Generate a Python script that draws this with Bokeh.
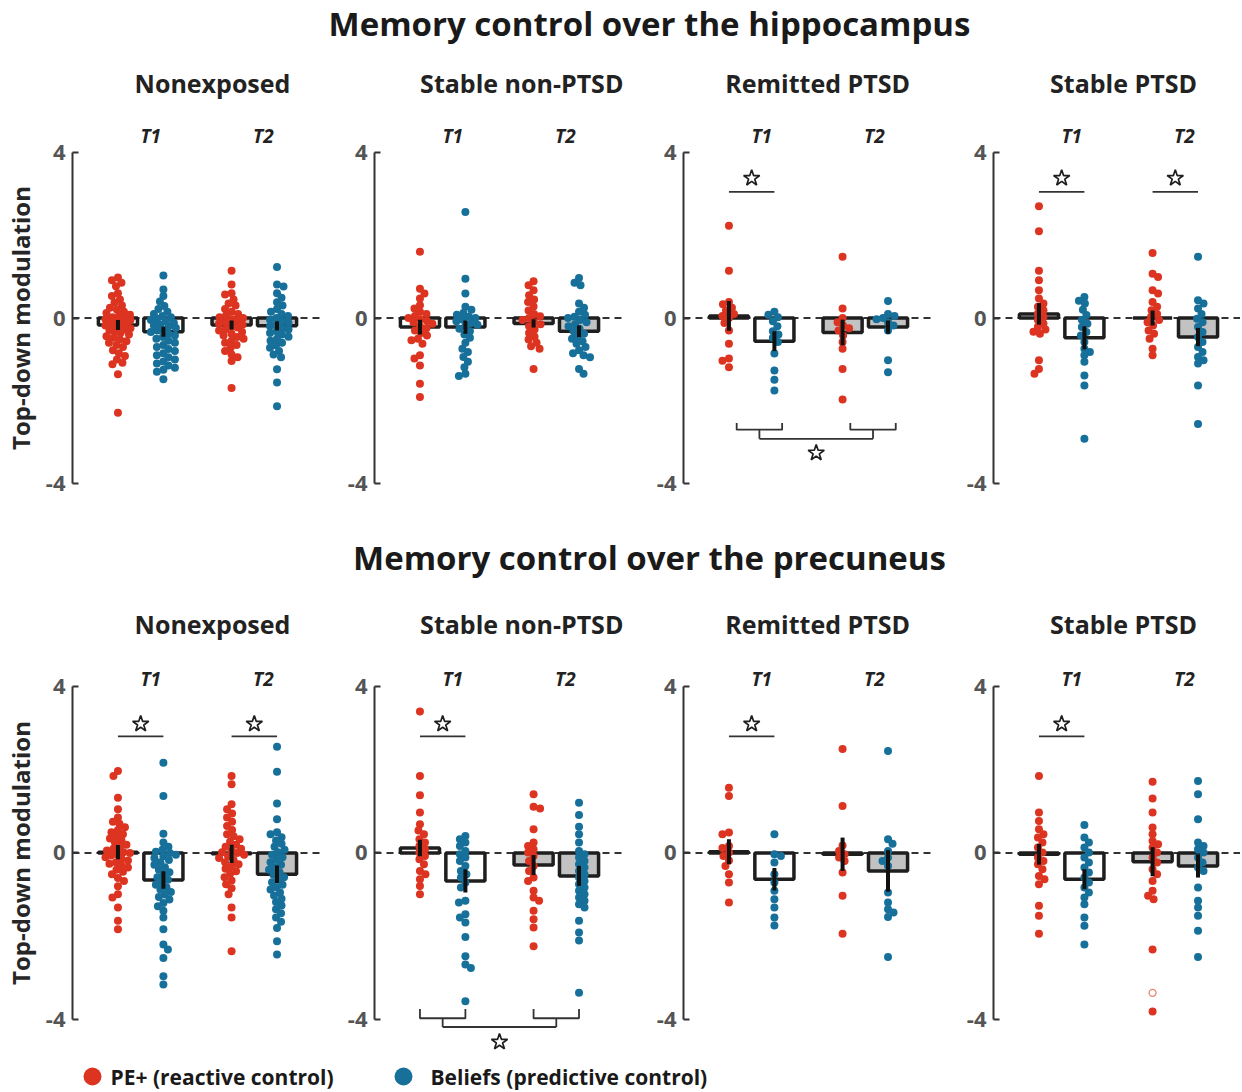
import numpy as np
from bokeh.plotting import figure
from bokeh.layouts import column, row
from bokeh.models import Range1d, FixedTicker, Span
from bokeh.core.properties import value
from bokeh.embed import file_html
from bokeh.resources import INLINE

# ---------------- data ----------------
groups = ["Nonexposed", "Stable non-PTSD", "Remitted PTSD", "Stable PTSD"]
times = ["T1", "T2"]
legend_labels = ["PE+ (reactive control)", "Beliefs (predictive control)"]
row_titles = ["Memory control over the hippocampus", "Memory control over the precuneus"]
y_label = "Top-down modulation"

# hippocampus - Nonexposed
hip_ne_t1_pe = [0.98, 0.91, 0.85, 0.77, 0.60, 0.53, 0.45, 0.37, 0.30, 0.25, 0.20, 0.15, 0.12, 0.08, 0.05, 0.02,
                0.0, -0.03, -0.05, -0.08, -0.1, -0.12, -0.15, -0.18, -0.2, -0.22, -0.25, -0.28, -0.3, -0.33,
                -0.36, -0.4, -0.44, -0.48, -0.52, -0.56, -0.6, -0.65, -0.7, -0.78, -0.85, -0.92, -1.0, -1.08,
                -1.12, -1.36, -2.29]
hip_ne_t1_bel = [1.03, 0.69, 0.53, 0.40, 0.29, 0.22, 0.15, 0.10, 0.05, 0.02, -0.02, -0.05, -0.08, -0.12, -0.15,
                 -0.18, -0.2, -0.24, -0.28, -0.3, -0.34, -0.38, -0.42, -0.46, -0.5, -0.55, -0.6, -0.65, -0.7,
                 -0.75, -0.8, -0.85, -0.9, -0.95, -1.0, -1.05, -1.1, -1.15, -1.2, -1.25, -1.3, -1.48]
hip_ne_t2_pe = [1.14, 0.81, 0.6, 0.57, 0.45, 0.35, 0.3, 0.22, 0.15, 0.1, 0.06, 0.02, 0.0, -0.03, -0.06, -0.1,
                -0.13, -0.16, -0.2, -0.23, -0.27, -0.3, -0.34, -0.38, -0.42, -0.46, -0.5, -0.55, -0.6, -0.65,
                -0.72, -0.8, -0.88, -0.95, -1.04, -1.69]
hip_ne_t2_bel = [1.23, 0.81, 0.76, 0.6, 0.49, 0.38, 0.3, 0.22, 0.15, 0.1, 0.05, 0.0, -0.04, -0.08, -0.12, -0.16,
                 -0.2, -0.24, -0.28, -0.32, -0.36, -0.4, -0.45, -0.5, -0.55, -0.6, -0.66, -0.72, -0.8, -0.88,
                 -0.95, -1.24, -1.56, -2.13]
# hippocampus - Stable non-PTSD
hip_sn_t1_pe = [1.6, 0.71, 0.59, 0.47, 0.31, 0.23, 0.15, 0.1, 0.05, 0.0, -0.03, -0.07, -0.1, -0.14, -0.2, -0.25,
                -0.3, -0.36, -0.42, -0.5, -0.54, -0.62, -0.9, -0.98, -1.15, -1.59, -1.91]
hip_sn_t1_bel = [2.56, 0.95, 0.59, 0.27, 0.2, 0.12, 0.08, 0.03, 0.0, -0.04, -0.08, -0.12, -0.16, -0.2, -0.26,
                 -0.32, -0.4, -0.48, -0.6, -0.74, -0.82, -0.94, -1.06, -1.19, -1.35, -1.4]
hip_sn_t2_pe = [0.89, 0.79, 0.67, 0.55, 0.45, 0.39, 0.28, 0.18, 0.1, 0.04, 0.0, -0.05, -0.1, -0.15, -0.2, -0.28,
                -0.36, -0.45, -0.52, -0.6, -0.68, -0.74, -1.23]
hip_sn_t2_bel = [0.97, 0.85, 0.79, 0.35, 0.25, 0.15, 0.08, 0.03, 0.0, -0.05, -0.1, -0.15, -0.2, -0.26, -0.32,
                 -0.38, -0.44, -0.5, -0.56, -0.62, -0.7, -0.78, -0.85, -0.9, -0.95, -1.23, -1.35]
# hippocampus - Remitted PTSD
hip_rp_t1_pe = [2.23, 1.14, 0.39, 0.33, 0.25, 0.18, 0.1, 0.05, 0.0, -0.12, -0.3, -0.62, -0.98, -1.03, -1.19]
hip_rp_t1_bel = [0.15, 0.08, 0.02, -0.08, -0.2, -0.32, -0.4, -0.48, -0.58, -0.86, -1.27, -1.49, -1.75]
hip_rp_t2_pe = [1.48, 0.23, 0.0, -0.1, -0.18, -0.25, -0.3, -0.42, -0.58, -0.74, -1.23, -1.97]
hip_rp_t2_bel = [0.41, 0.1, 0.05, 0.0, -0.03, -0.1, -0.18, -0.3, -1.02, -1.31]
# hippocampus - Stable PTSD
hip_sp_t1_pe = [2.7, 2.1, 1.14, 0.91, 0.67, 0.47, 0.35, 0.27, 0.19, 0.11, 0.03, -0.05, -0.13, -0.21, -0.28,
                -0.33, -0.38, -1.02, -1.23, -1.35]
hip_sp_t1_bel = [0.51, 0.42, 0.35, 0.2, 0.07, -0.05, -0.14, -0.22, -0.34, -0.42, -0.58, -0.74, -0.82, -0.9,
                 -1.06, -1.39, -1.63, -2.92]
hip_sp_t2_pe = [1.57, 1.07, 0.99, 0.67, 0.59, 0.39, 0.27, 0.19, 0.1, 0.03, -0.05, -0.1, -0.18, -0.3, -0.38,
                -0.5, -0.74, -0.9]
hip_sp_t2_bel = [1.48, 0.43, 0.35, 0.23, 0.1, -0.02, -0.1, -0.22, -0.34, -0.46, -0.58, -0.7, -0.82, -0.94,
                 -1.02, -1.1, -1.63, -2.56]

hip_means = [[-0.17, -0.33, -0.17, -0.19], [-0.22, -0.22, -0.13, -0.32],
             [0.05, -0.56, -0.35, -0.22], [0.10, -0.48, 0.0, -0.46]]
hip_sems = [[0.12, 0.12, 0.11, 0.11], [0.18, 0.16, 0.10, 0.14],
            [0.36, 0.24, 0.31, 0.16], [0.26, 0.28, 0.18, 0.22]]

# precuneus - Nonexposed
pre_ne_t1_pe = [1.97, 1.85, 1.33, 1.05, 0.85, 0.75, 0.7, 0.62, 0.55, 0.5, 0.45, 0.4, 0.35, 0.3, 0.25, 0.2, 0.15,
                0.1, 0.06, 0.02, 0.0, -0.03, -0.06, -0.1, -0.14, -0.18, -0.22, -0.26, -0.3, -0.35, -0.4, -0.45,
                -0.51, -0.6, -0.67, -0.8, -0.99, -1.07, -1.31, -1.63, -1.83]
pre_ne_t1_bel = [2.17, 1.37, 0.46, 0.25, 0.15, 0.08, 0.03, 0.0, -0.04, -0.08, -0.12, -0.17, -0.22, -0.28, -0.34,
                 -0.4, -0.46, -0.52, -0.58, -0.64, -0.7, -0.76, -0.82, -0.88, -0.94, -1.0, -1.06, -1.12, -1.2,
                 -1.28, -1.39, -1.55, -1.83, -2.2, -2.32, -2.52, -2.96, -3.16]
pre_ne_t2_pe = [1.85, 1.65, 1.17, 1.05, 0.95, 0.85, 0.75, 0.65, 0.55, 0.45, 0.4, 0.33, 0.27, 0.2, 0.15, 0.1,
                0.05, 0.02, 0.0, -0.04, -0.08, -0.12, -0.17, -0.22, -0.27, -0.32, -0.38, -0.44, -0.5, -0.58,
                -0.66, -0.75, -0.85, -0.99, -1.31, -1.55, -2.36]
pre_ne_t2_bel = [2.55, 1.95, 1.19, 0.81, 0.5, 0.45, 0.38, 0.3, 0.22, 0.15, 0.08, 0.02, -0.04, -0.1, -0.16,
                 -0.22, -0.28, -0.34, -0.4, -0.46, -0.52, -0.58, -0.64, -0.7, -0.76, -0.82, -0.88, -0.95, -1.02,
                 -1.1, -1.18, -1.26, -1.35, -1.45, -1.55, -1.65, -1.8, -2.12, -2.44]
# precuneus - Stable non-PTSD
pre_sn_t1_pe = [3.4, 1.85, 1.39, 0.97, 0.69, 0.54, 0.45, 0.33, 0.25, 0.17, 0.09, 0.01, -0.07, -0.15, -0.27,
                -0.43, -0.51, -0.63, -0.79, -0.99]
pre_sn_t1_bel = [0.41, 0.33, 0.25, 0.17, 0.05, -0.03, -0.11, -0.19, -0.31, -0.43, -0.51, -0.59, -0.71, -0.83,
                 -1.15, -1.19, -1.47, -1.55, -1.67, -2.02, -2.48, -2.68, -2.76, -3.56]
pre_sn_t2_pe = [1.41, 1.11, 1.07, 0.57, 0.25, 0.17, 0.09, 0.01, -0.07, -0.19, -0.31, -0.43, -0.59, -0.67,
                -0.91, -1.07, -1.15, -1.39, -1.59, -1.79, -2.24]
pre_sn_t2_bel = [1.21, 0.91, 0.63, 0.45, 0.25, 0.05, -0.03, -0.11, -0.19, -0.27, -0.35, -0.43, -0.51, -0.59,
                 -0.67, -0.75, -0.83, -0.91, -0.99, -1.07, -1.15, -1.23, -1.31, -1.63, -1.91, -2.1, -3.36]
# precuneus - Remitted PTSD
pre_rp_t1_pe = [1.57, 1.37, 0.49, 0.45, 0.17, 0.12, 0.01, -0.07, -0.18, -0.31, -0.51, -0.71, -1.19]
pre_rp_t1_bel = [0.45, -0.03, -0.07, -0.23, -0.51, -0.71, -0.91, -1.11, -1.31, -1.55, -1.74]
pre_rp_t2_pe = [2.5, 1.13, 0.18, 0.05, -0.03, -0.11, -0.19, -0.47, -1.03, -1.94]
pre_rp_t2_bel = [2.45, 0.33, 0.22, 0.05, -0.11, -0.19, -0.31, -0.95, -1.19, -1.35, -1.43, -1.54, -2.5]
# precuneus - Stable PTSD
pre_sp_t1_pe = [1.85, 0.97, 0.77, 0.57, 0.45, 0.37, 0.25, 0.13, 0.01, -0.11, -0.19, -0.27, -0.39, -0.55,
                -0.63, -0.75, -1.27, -1.51, -1.94]
pre_sp_t1_bel = [0.67, 0.37, 0.25, 0.13, 0.01, -0.11, -0.23, -0.35, -0.47, -0.59, -0.71, -0.83, -0.95, -1.07,
                 -1.23, -1.55, -1.75, -2.2]
pre_sp_t2_pe = [1.71, 1.31, 0.97, 0.61, 0.45, 0.29, 0.21, 0.13, 0.01, -0.11, -0.23, -0.39, -0.51, -0.67, -0.91,
                -1.03, -1.11, -2.32, -3.81]
pre_sp_t2_bel = [1.73, 1.41, 0.81, 0.25, 0.17, 0.09, 0.01, -0.11, -0.23, -0.35, -0.43, -0.83, -1.15, -1.31,
                 -1.51, -1.87, -2.5]
pre_sp_t2_pe_outlier = [-3.36]

pre_means = [[0.02, -0.65, -0.02, -0.51], [0.12, -0.67, -0.29, -0.55],
             [0.03, -0.63, -0.03, -0.43], [-0.03, -0.63, -0.21, -0.31]]
pre_sems = [[0.17, 0.21, 0.22, 0.21], [0.20, 0.28, 0.24, 0.24],
            [0.30, 0.27, 0.40, 0.50], [0.25, 0.24, 0.35, 0.28]]

hip_points = [[hip_ne_t1_pe, hip_ne_t1_bel, hip_ne_t2_pe, hip_ne_t2_bel],
              [hip_sn_t1_pe, hip_sn_t1_bel, hip_sn_t2_pe, hip_sn_t2_bel],
              [hip_rp_t1_pe, hip_rp_t1_bel, hip_rp_t2_pe, hip_rp_t2_bel],
              [hip_sp_t1_pe, hip_sp_t1_bel, hip_sp_t2_pe, hip_sp_t2_bel]]
pre_points = [[pre_ne_t1_pe, pre_ne_t1_bel, pre_ne_t2_pe, pre_ne_t2_bel],
              [pre_sn_t1_pe, pre_sn_t1_bel, pre_sn_t2_pe, pre_sn_t2_bel],
              [pre_rp_t1_pe, pre_rp_t1_bel, pre_rp_t2_pe, pre_rp_t2_bel],
              [pre_sp_t1_pe, pre_sp_t1_bel, pre_sp_t2_pe, pre_sp_t2_bel]]

# significant PE+ vs Beliefs contrasts, and group x time interaction
hip_sig = [[], [], ["T1"], ["T1", "T2"]]
pre_sig = [["T1", "T2"], ["T1"], ["T1"], ["T1"]]
hip_interaction = [False, False, True, False]
pre_interaction = [False, True, False, False]

# ---------------- style / layout ----------------
FONT = "Open Sans"
RED = "#dc3420"
BLUE = "#17709a"
GRAY_FILL = "#c2c2c2"
DARK = "#222222"
PXX = 45.45                      # px per x unit
BAR_POS = [1.0, 2.0, 3.5, 4.5]
BAR_W = 0.86
FILLS = ["white", "white", GRAY_FILL, GRAY_FILL]
COLORS = [RED, BLUE, RED, BLUE]
TOTAL_W = 1240
LABEL_W = 38
LEFTS = [34, 52, 59, 60]
WIDTHS = [284, 302, 309, 307]
TITLE_X = [3.08, 3.24, 2.95, 2.86]
T_LABEL_X = [1.72, 4.2]


def swarm(vals, sy, d=6.4, maxoff=12.5):
    vals = np.asarray(vals, dtype=float)
    order = np.argsort(-vals, kind="stable")
    placed = []
    offs = np.zeros(len(vals))
    steps = np.arange(0.5, maxoff + 0.01, 0.5)
    for n, idx in enumerate(order):
        y = vals[idx] * sy
        sgn = 1 if n % 2 == 0 else -1
        cands = [0.0]
        for k in steps:
            cands += [sgn * k, -sgn * k]
        best, bestc, bestscore = None, 0.0, -1.0
        for c in cands:
            mind = min((np.hypot(c - px, y - py) for px, py in placed), default=1e9)
            if mind >= d:
                best = c
                break
            if mind > bestscore:
                bestscore, bestc = mind, c
        if best is None:
            best = bestc
        offs[idx] = best
        placed.append((best, y))
    return offs / PXX


def bare(p):
    p.axis.visible = False
    p.grid.visible = False
    p.outline_line_color = None


def style_axes(p):
    p.xaxis.visible = False
    p.xgrid.visible = False
    p.ygrid.visible = False
    p.outline_line_color = None
    ax = p.yaxis[0]
    ax.ticker = FixedTicker(ticks=[-4, 0, 4])
    ax.major_label_overrides = {-4: "-4", 0: "0", 4: "4"}
    ax.bounds = (-4, 4)
    ax.major_tick_in = 6
    ax.major_tick_out = 0
    ax.minor_tick_line_color = None
    ax.axis_line_width = 2
    ax.axis_line_color = "#333333"
    ax.major_tick_line_width = 2
    ax.major_tick_line_color = "#333333"
    ax.major_label_text_font = FONT
    ax.major_label_text_font_style = "bold"
    ax.major_label_text_font_size = "22px"
    ax.major_label_text_color = "#555555"
    ax.major_label_standoff = 7


def label_fig(height, ystart, yend):
    p = figure(width=LABEL_W, height=height, x_range=Range1d(0, LABEL_W), y_range=Range1d(ystart, yend),
               toolbar_location=None, output_backend="svg", min_border=0,
               background_fill_color="white", border_fill_color="white")
    bare(p)
    p.text(x=[20], y=[0], text=[y_label], angle=np.pi / 2, text_font=value(FONT),
           text_font_style="bold", text_font_size="24px", text_color="#262626",
           text_align="center", text_baseline="middle")
    return p


def make_panel(i, points, means, sems, sig, interaction, height, ystart, yend, title_y, tlabel_y,
               sig_y, star_y, brk, outlier=None):
    frame_w = WIDTHS[i] - LEFTS[i]
    p = figure(width=WIDTHS[i], height=height,
               x_range=Range1d(0, frame_w / PXX), y_range=Range1d(ystart, yend),
               toolbar_location=None, output_backend="svg",
               min_border_left=LEFTS[i], min_border_right=0, min_border_top=0, min_border_bottom=0,
               background_fill_color="white", border_fill_color="white")
    style_axes(p)
    sy = height / (yend - ystart)
    p.add_layout(Span(location=0, dimension="width", line_color="#333333", line_width=1.8,
                      line_dash="7 5", level="underlay"))
    # bars
    p.vbar(x=BAR_POS, top=means, bottom=0, width=BAR_W, fill_color=FILLS,
           line_color="#1e1e1e", line_width=3.5)
    # dots
    for k in range(4):
        xs = BAR_POS[k] + swarm(points[k], sy)
        p.scatter(x=xs, y=points[k], size=8, fill_color=COLORS[k], line_color=None)
    if outlier is not None:
        k, vals = outlier
        p.scatter(x=[BAR_POS[k]] * len(vals), y=vals, size=7, fill_color=None,
                  line_color="#e8866f", line_width=1.3)
    # error bars
    lo = [m - s for m, s in zip(means, sems)]
    hi = [m + s for m, s in zip(means, sems)]
    p.segment(x0=BAR_POS, x1=BAR_POS, y0=lo, y1=hi, line_color="#111111", line_width=4)
    # significance
    for t in sig:
        j = 0 if t == "T1" else 2
        a, b = BAR_POS[j], BAR_POS[j + 1]
        p.segment(x0=[a], x1=[b], y0=[sig_y], y1=[sig_y], line_color="#333333", line_width=1.8)
        p.scatter(x=[(a + b) / 2], y=[star_y], marker="star", size=17, fill_color="white",
                  line_color="#1e1e1e", line_width=1.7)
    if interaction:
        off, ytop, yh, ylow, ystar = brk
        xa, xb = BAR_POS[0] + off, BAR_POS[1] + off
        xc, xd = BAR_POS[2] + off, BAR_POS[3] + off
        m1, m2 = (xa + xb) / 2, (xc + xd) / 2
        xs = [[xa, xa, xb, xb], [xc, xc, xd, xd], [m1, m1], [m2, m2], [m1, m2]]
        ys = [[ytop, yh, yh, ytop], [ytop, yh, yh, ytop], [yh, ylow], [yh, ylow], [ylow, ylow]]
        p.multi_line(xs=xs, ys=ys, line_color="#333333", line_width=1.8)
        p.scatter(x=[(m1 + m2) / 2], y=[ystar], marker="star", size=17, fill_color="white",
                  line_color="#1e1e1e", line_width=1.7)
    # texts
    p.text(x=[TITLE_X[i]], y=[title_y], text=[groups[i]], text_font=value(FONT),
           text_font_style="bold", text_font_size="25px", text_color=DARK,
           text_align="center", text_baseline="middle")
    p.text(x=T_LABEL_X, y=[tlabel_y, tlabel_y], text=times, text_font=value(FONT),
           text_font_style="bold italic", text_font_size="19px", text_color=DARK,
           text_align="center", text_baseline="middle")
    return p


def text_fig(h, y, txt, size):
    p = figure(width=TOTAL_W, height=h, x_range=Range1d(0, TOTAL_W), y_range=Range1d(h, 0),
               toolbar_location=None, output_backend="svg", min_border=0,
               background_fill_color="white", border_fill_color="white")
    bare(p)
    p.text(x=[649], y=[y], text=[txt], text_font=value(FONT), text_font_style="bold",
           text_font_size=size, text_color="#1a1a1a", text_align="center", text_baseline="middle")
    return p


# row 1 (hippocampus)
H1, Y1 = 454, (-4.604, 6.369)
row1 = [label_fig(H1, *Y1)]
for i in range(4):
    row1.append(make_panel(i, hip_points[i], hip_means[i], hip_sems[i], hip_sig[i], hip_interaction[i],
                           H1, Y1[0], Y1[1], 5.69, 4.41, 3.05, 3.38,
                           (0.17, -2.54, -2.70, -2.92, -3.26)))
# row 2 (precuneus)
H2, Y2 = 462, (-4.865, 6.234)
row2 = [label_fig(H2, *Y2)]
for i in range(4):
    out = (2, pre_sp_t2_pe_outlier) if i == 3 else None
    row2.append(make_panel(i, pre_points[i], pre_means[i], pre_sems[i], pre_sig[i], pre_interaction[i],
                           H2, Y2[0], Y2[1], 5.49, 4.19, 2.80, 3.10,
                           (0.0, -3.75, -3.97, -4.18, -4.54), outlier=out))

t1 = text_fig(54, 23, row_titles[0], "33px")
t2 = text_fig(85, 49, row_titles[1], "33px")

# legend
LH = 35
leg = figure(width=TOTAL_W, height=LH, x_range=Range1d(0, TOTAL_W), y_range=Range1d(LH, 0),
             toolbar_location=None, output_backend="svg", min_border=0,
             background_fill_color="white", border_fill_color="white")
bare(leg)
leg.scatter(x=[92, 403], y=[21, 21], size=18, fill_color=[RED, BLUE], line_color=None)
leg.text(x=[110, 430], y=[21, 21], text=legend_labels, text_font=value(FONT), text_font_style="bold",
         text_font_size="21px", text_color="#1a1a1a", text_align="left", text_baseline="middle")

layout = column(t1, row(*row1), t2, row(*row2), leg)
open("out.html", "w").write(file_html(layout, INLINE))
